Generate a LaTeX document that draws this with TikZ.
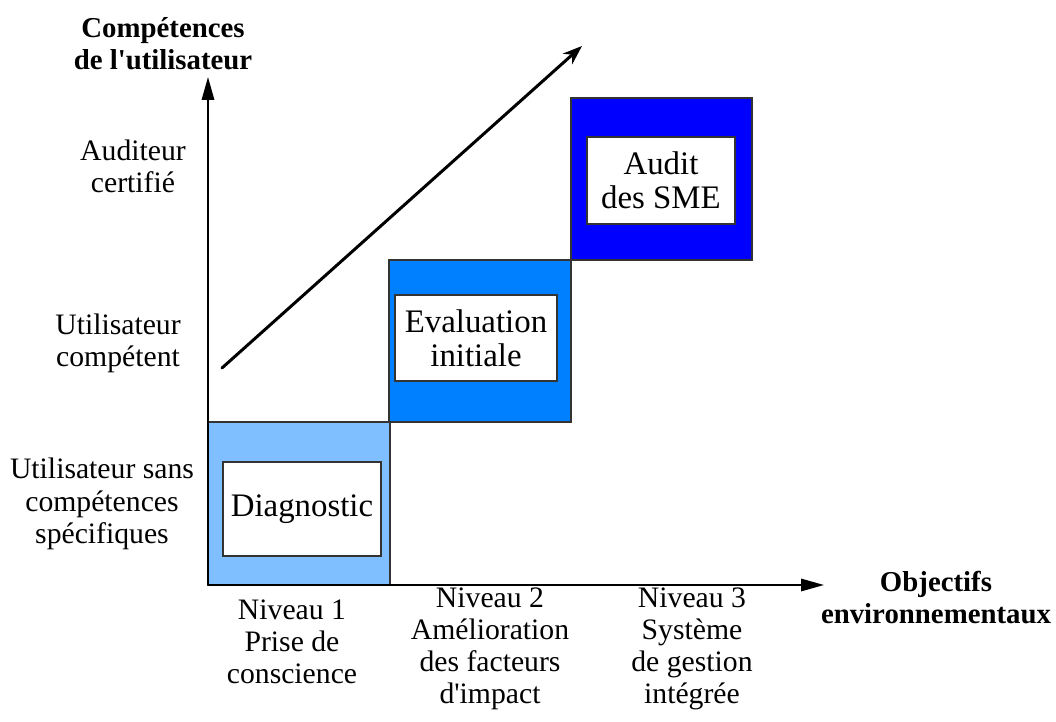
\documentclass[tikz,border=0pt]{standalone}
\usepackage{fontspec}
\setmainfont{Liberation Serif}
\usetikzlibrary{arrows.meta}
\definecolor{bleuclair}{HTML}{80BFFF}
\definecolor{bleumoyen}{HTML}{0080FF}
\definecolor{bleufonce}{HTML}{0000FF}
\definecolor{bord}{HTML}{333333}
\tikzset{
  niveau/.style={draw=bord, line width=0.6pt},
  etape/.style={draw=bord, line width=0.6pt, fill=white, align=center, inner sep=0pt,
    font=\fontsize{18.7}{19.5}\selectfont},
  etiquette/.style={align=center, font=\fontsize{16.9}{18.3}\selectfont},
  titre/.style={align=center, font=\fontsize{16.4}{18.2}\selectfont\bfseries},
  axe/.style={line width=1.1pt, -{Triangle[length=13pt,width=7pt]}}
}
\begin{document}
\begin{tikzpicture}[x=0.02cm,y=-0.02cm]
\useasboundingbox (0,0) rectangle (1056,722);
% niveaux
\draw[niveau, fill=bleuclair] (208,422) rectangle (390,585);
\draw[niveau, fill=bleumoyen] (389,260) rectangle (571,422);
\draw[niveau, fill=bleufonce] (571,98) rectangle (752,260);
\node[etape, minimum width=3.16cm, minimum height=1.88cm] (diag) at (302,509) {Diagnostic};
\node[etape, minimum width=3.24cm, minimum height=1.72cm] (eval) at (476,338) {Evaluation\\initiale};
\node[etape, minimum width=2.96cm, minimum height=1.74cm] (audit) at (661,180.5) {Audit\\des SME};
% axes
\coordinate (O) at (208,585);
\coordinate (Ytip) at (208,77);
\coordinate (Xtip) at (824,585);
\draw[axe] (O) -- (Ytip);
\draw[axe] (O) -- (Xtip);
% progression
\coordinate (debut) at (222,368);
\coordinate (fin) at (582,46);
\draw[line width=1.7pt, line cap=round, -{Stealth[length=11pt,width=8pt]}] (debut) -- (fin);
% titres des axes
\node[titre] (tY) at (163,44) {Compétences\\de l\textquotesingle utilisateur};
\node[titre] (tX) at (936,598) {Objectifs\\environnementaux};
% competences
\node[etiquette] (c3) at (133,166) {Auditeur\\certifié};
\node[etiquette] (c2) at (118,343) {Utilisateur\\compétent};
\node[etiquette] (c1) at (102,504) {Utilisateur sans\\compétences\\spécifiques};
% objectifs
\node[etiquette] (n1) at (292,642) {Niveau 1\\Prise de\\conscience};
\node[etiquette] (n2) at (490,649) {Niveau 2\\Amélioration\\des facteurs\\d\textquotesingle impact};
\node[etiquette] (n3) at (692,649) {Niveau 3\\Système\\de gestion\\intégrée};
\end{tikzpicture}
\end{document}
